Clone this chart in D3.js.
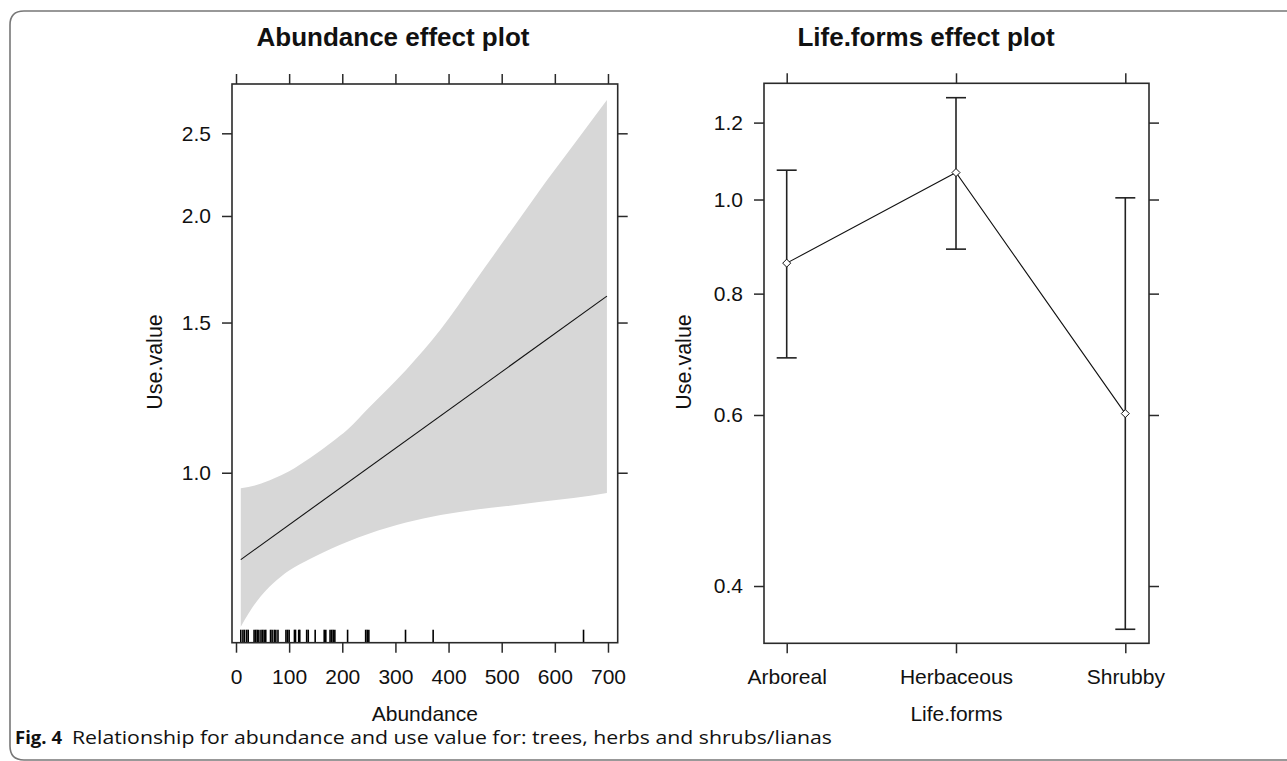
<!DOCTYPE html>
<html>
<head>
<meta charset="utf-8">
<script src="https://cdn.jsdelivr.net/npm/d3@7"></script>
<style>
  html, body { margin: 0; padding: 0; background: #fff; }
  svg { display: block; }
  text { font-family: "Liberation Sans", Arial, Helvetica, sans-serif; fill: #111; }
</style>
</head>
<body>
<svg id="chart" width="1287" height="761"></svg>
<script>
// ---------------- DATA ----------------
// Left panel: Abundance effect (fit + confidence band, log y scale)
const abundanceTicks = [0, 100, 200, 300, 400, 500, 600, 700];
const useValueTicksLeft = [1.0, 1.5, 2.0, 2.5];
const fitAbundance = [9, 698];
const fitValue = [0.791, 1.611];
const bandAbundance = [9, 40, 70, 100, 140, 180, 210, 250, 320, 385, 450, 510, 570, 635, 698];
const bandUpper = [0.959, 0.968, 0.984, 1.004, 1.041, 1.086, 1.124, 1.192, 1.320, 1.472, 1.677, 1.893, 2.137, 2.422, 2.735];
const bandLower = [0.660, 0.708, 0.742, 0.768, 0.793, 0.815, 0.830, 0.848, 0.874, 0.892, 0.905, 0.914, 0.924, 0.934, 0.947];
const rugAbundance = [9, 13, 16, 20, 23, 34, 37, 40, 43, 47, 50, 53, 56, 65, 68, 72, 75, 79, 94, 97, 100,
  110, 112, 118, 120, 133, 136, 149, 166, 169, 177, 180, 183, 186, 210, 244, 247, 250, 319, 371, 654];

// Right panel: Life.forms effect (point estimate + CI, log y scale)
const lifeForms = ["Arboreal", "Herbaceous", "Shrubby"];
const lifeFit = [0.860, 1.066, 0.602];
const lifeLower = [0.687, 0.889, 0.361];
const lifeUpper = [1.072, 1.273, 1.004];
const useValueTicksRight = [0.4, 0.6, 0.8, 1.0, 1.2];

const titles = ["Abundance effect plot", "Life.forms effect plot"];
const xLabels = ["Abundance", "Life.forms"];
const yLabel = "Use.value";
const captionBold = "Fig. 4";
const captionText = "Relationship for abundance and use value for: trees, herbs and shrubs/lianas";

// ---------------- DRAWING ----------------
const svg = d3.select("#chart");
const boxStroke = "#2a2a2a";
const tickLen = 10;

// Outer rounded frame (figure border)
svg.append("path")
  .attr("d", "M1295,11 H24 Q10,11 10,25 V746 Q10,760 24,760 H1295")
  .attr("fill", "none").attr("stroke", "#777").attr("stroke-width", 1.6);

function styleAxis(g, withLabels) {
  g.select(".domain").remove();
  g.selectAll(".tick line").attr("stroke", boxStroke).attr("stroke-width", 1.5);
  g.selectAll(".tick text")
    .attr("font-family", '"Liberation Sans", Arial, sans-serif')
    .attr("font-size", 21).attr("fill", "#111");
  if (!withLabels) g.selectAll(".tick text").remove();
}

// ----- Left panel -----
const L = { left: 232, right: 617.7, top: 84, bottom: 642.7 };
const xL = d3.scaleLinear().domain([-7.53, 718.3]).range([L.left, L.right]);
const yL = d3.scaleLog().domain([0.632, 2.856]).range([L.bottom, L.top]);

const bandData = bandAbundance.map((a, i) => ({ a, lo: bandLower[i], hi: bandUpper[i] }));
svg.append("path")
  .datum(bandData)
  .attr("fill", "#d7d7d7")
  .attr("d", d3.area().curve(d3.curveMonotoneX)
    .x(d => xL(d.a)).y0(d => yL(d.lo)).y1(d => yL(d.hi)));

svg.append("path")
  .datum(fitAbundance.map((a, i) => ({ a, v: fitValue[i] })))
  .attr("fill", "none").attr("stroke", "#111").attr("stroke-width", 1.1)
  .attr("d", d3.line().x(d => xL(d.a)).y(d => yL(d.v)));

svg.append("g").selectAll("line").data(rugAbundance).join("line")
  .attr("x1", d => xL(d)).attr("x2", d => xL(d))
  .attr("y1", L.bottom).attr("y2", L.bottom - 13)
  .attr("stroke", "#000").attr("stroke-width", 1.6);

svg.append("rect")
  .attr("x", L.left).attr("y", L.top)
  .attr("width", L.right - L.left).attr("height", L.bottom - L.top)
  .attr("fill", "none").attr("stroke", boxStroke).attr("stroke-width", 1.6);

styleAxis(svg.append("g").attr("transform", `translate(0,${L.bottom})`)
  .call(d3.axisBottom(xL).tickValues(abundanceTicks).tickSize(tickLen).tickPadding(16).tickFormat(d3.format("d"))), true);
styleAxis(svg.append("g").attr("transform", `translate(0,${L.top})`)
  .call(d3.axisTop(xL).tickValues(abundanceTicks).tickSize(tickLen)), false);
styleAxis(svg.append("g").attr("transform", `translate(${L.left},0)`)
  .call(d3.axisLeft(yL).tickValues(useValueTicksLeft).tickSize(tickLen).tickPadding(11).tickFormat(d3.format(".1f"))), true);
styleAxis(svg.append("g").attr("transform", `translate(${L.right},0)`)
  .call(d3.axisRight(yL).tickValues(useValueTicksLeft).tickSize(tickLen)), false);

// ----- Right panel -----
const R = { left: 764, right: 1149, top: 83.3, bottom: 643.3 };
const xR = d3.scalePoint().domain(lifeForms).range([786.7, 1125.3]);
const yR = d3.scaleLog().domain([0.3492, 1.3172]).range([R.bottom, R.top]);

// error bars
const capHalf = 10;
const eb = svg.append("g");
lifeForms.forEach((f, i) => {
  const x = xR(f);
  eb.append("line").attr("x1", x).attr("x2", x)
    .attr("y1", yR(lifeLower[i])).attr("y2", yR(lifeUpper[i]))
    .attr("stroke", "#222").attr("stroke-width", 1.6);
  [lifeLower[i], lifeUpper[i]].forEach(v => {
    eb.append("line").attr("x1", x - capHalf).attr("x2", x + capHalf)
      .attr("y1", yR(v)).attr("y2", yR(v))
      .attr("stroke", "#222").attr("stroke-width", 1.6);
  });
});

svg.append("path")
  .datum(lifeForms.map((f, i) => ({ f, v: lifeFit[i] })))
  .attr("fill", "none").attr("stroke", "#111").attr("stroke-width", 1.1)
  .attr("d", d3.line().x(d => xR(d.f)).y(d => yR(d.v)));

svg.append("g").selectAll("path").data(lifeForms).join("path")
  .attr("transform", (f, i) => `translate(${xR(f)},${yR(lifeFit[i])})`)
  .attr("d", "M0,-4 L4,0 L0,4 L-4,0 Z")
  .attr("fill", "#fff").attr("stroke", "#111").attr("stroke-width", 1);

svg.append("rect")
  .attr("x", R.left).attr("y", R.top)
  .attr("width", R.right - R.left).attr("height", R.bottom - R.top)
  .attr("fill", "none").attr("stroke", boxStroke).attr("stroke-width", 1.6);

styleAxis(svg.append("g").attr("transform", `translate(0,${R.bottom})`)
  .call(d3.axisBottom(xR).tickSize(tickLen).tickPadding(16)), true);
styleAxis(svg.append("g").attr("transform", `translate(0,${R.top})`)
  .call(d3.axisTop(xR).tickSize(tickLen)), false);
styleAxis(svg.append("g").attr("transform", `translate(${R.left},0)`)
  .call(d3.axisLeft(yR).tickValues(useValueTicksRight).tickSize(tickLen).tickPadding(11).tickFormat(d3.format(".1f"))), true);
styleAxis(svg.append("g").attr("transform", `translate(${R.right},0)`)
  .call(d3.axisRight(yR).tickValues(useValueTicksRight).tickSize(tickLen)), false);

// ----- Titles and labels -----
const titleX = [393, 926];
titles.forEach((t, i) => {
  svg.append("text").attr("x", titleX[i]).attr("y", 46)
    .attr("text-anchor", "middle").attr("font-weight", "bold").attr("font-size", 26)
    .text(t);
});
const xLabelX = [(L.left + L.right) / 2, (R.left + R.right) / 2];
xLabels.forEach((t, i) => {
  svg.append("text").attr("x", xLabelX[i]).attr("y", 721)
    .attr("text-anchor", "middle").attr("font-size", 21).text(t);
});
[[162, 362], [691, 362]].forEach(([x, y]) => {
  svg.append("text").attr("transform", `translate(${x},${y}) rotate(-90)`)
    .attr("text-anchor", "middle").attr("font-size", 21.5).text(yLabel);
});

// Caption (fitted to the reference's horizontal extent)
const capFont = '"Open Sans", "Noto Sans", sans-serif';
svg.append("text").attr("x", 15).attr("y", 744).attr("font-size", 18.5)
  .attr("font-weight", "bold").style("font-family", capFont)
  .attr("textLength", 47).attr("lengthAdjust", "spacingAndGlyphs")
  .text(captionBold);
svg.append("text").attr("x", 72).attr("y", 744).attr("font-size", 18.5)
  .style("font-family", capFont)
  .attr("textLength", 760).attr("lengthAdjust", "spacingAndGlyphs")
  .text(captionText);
</script>
</body>
</html>
